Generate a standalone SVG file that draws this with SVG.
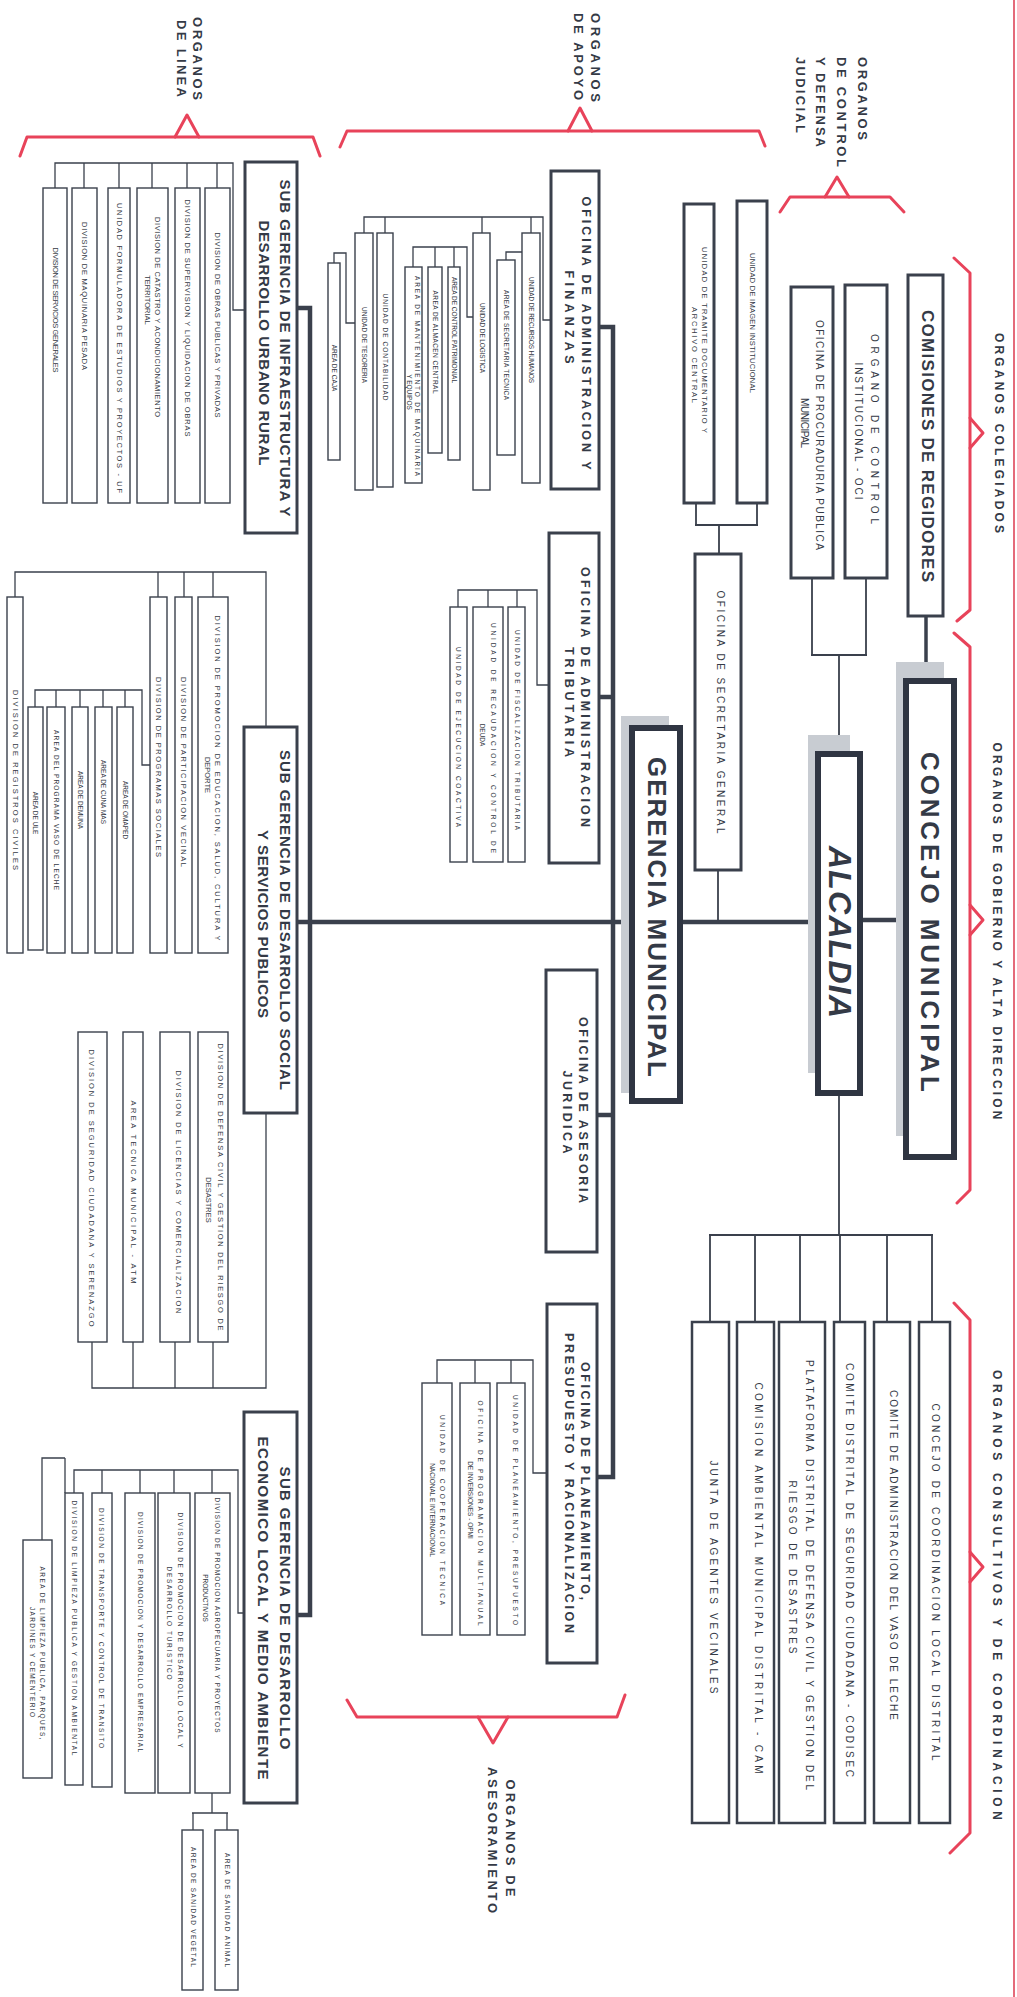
<svg xmlns="http://www.w3.org/2000/svg" width="1017" height="1997" viewBox="0 0 1017 1997">
<style>
text { font-family: "Liberation Sans", Arial, sans-serif; fill: #343a46; text-anchor: middle; dominant-baseline: central; }
.s { font-size: 6.5px; }
.m { font-size: 7.5px; }
.c { font-size: 10px; }
.sec { font-size: 10px; }
.o { font-size: 12.5px; font-weight: bold; }
.g { font-size: 15px; font-weight: bold; }
.h { font-size: 12px; font-weight: bold; }
.L { font-size: 13px; font-weight: bold; }
.cr { font-size: 17px; font-weight: bold; }
.big { font-size: 26px; font-weight: bold; }
.alc { font-size: 32px; font-weight: bold; font-style: italic; }
.st { text-anchor: start; }
.bx { fill: #fff; stroke: #3a404c; stroke-width: 1.4; }
.bc { fill: #fff; stroke: #3a404c; stroke-width: 2.5; }
.bm { fill: #fff; stroke: #3a404c; stroke-width: 3; }
.bt { fill: #fff; stroke: #2f3542; stroke-width: 6; }
.sh { fill: #c8ccd2; }
.ln { fill: none; stroke: #3a404c; stroke-width: 1.3; }
.lm { fill: none; stroke: #3a404c; stroke-width: 1.8; }
.lk { fill: none; stroke: #3a404c; stroke-width: 4.5; }
.red { fill: none; stroke: #e8435a; stroke-width: 3; stroke-linejoin: round; stroke-linecap: round; }
</style>

<!-- red frame edge -->
<path d="M1014,0 V1997" fill="none" stroke="#e46a7a" stroke-width="2"/>

<!-- brackets -->
<g id="brackets">
<path class="red" d="M20,156 L27,137 H313 L320,156"/>
<path class="red" d="M175,137 L187,115 L199,137"/>
<path class="red" d="M340,147 L347,131 H759 L765,146"/>
<path class="red" d="M568,131 L580,108 L592,131"/>
<path class="red" d="M780,212 L790,197 H890 L904,212"/>
<path class="red" d="M825,197 L837,177 L849,197"/>
<path class="red" d="M954,258 L970,273 V610 L957,621"/>
<path class="red" d="M970,418 L983,433 L970,448"/>
<path class="red" d="M954,633 L970,647 V1190 L957,1203"/>
<path class="red" d="M970,905 L983,920 L970,935"/>
<path class="red" d="M954,1303 L970,1320 V1833 L950,1853"/>
<path class="red" d="M970,1552 L983,1567 L970,1582"/>
<path class="red" d="M347,1700 L357,1717 H617 L625,1695"/>
<path class="red" d="M478,1717 L493,1743 L508,1717"/>
</g>

<g id="labels">
<text class="h" transform="translate(999 433) rotate(90)" textLength="200" lengthAdjust="spacing">ORGANOS COLEGIADOS</text>
<text class="h" transform="translate(997 931) rotate(90)" textLength="377" lengthAdjust="spacing">ORGANOS DE GOBIERNO Y ALTA DIRECCION</text>
<text class="h" transform="translate(997 1595) rotate(90)" textLength="450" lengthAdjust="spacing">ORGANOS CONSULTIVOS Y DE COORDINACION</text>
<text class="L st" transform="translate(197 17) rotate(90)" textLength="83" lengthAdjust="spacing">ORGANOS</text>
<text class="L st" transform="translate(181 20) rotate(90)" textLength="77" lengthAdjust="spacing">DE LINEA</text>
<text class="L st" transform="translate(595 13) rotate(90)" textLength="89" lengthAdjust="spacing">ORGANOS</text>
<text class="L st" transform="translate(578 13) rotate(90)" textLength="87" lengthAdjust="spacing">DE APOYO</text>
<text class="L st" transform="translate(862 57) rotate(90)" textLength="83" lengthAdjust="spacing">ORGANOS</text>
<text class="L st" transform="translate(841 57) rotate(90)" textLength="110" lengthAdjust="spacing">DE CONTROL</text>
<text class="L st" transform="translate(820 57) rotate(90)" textLength="90" lengthAdjust="spacing">Y DEFENSA</text>
<text class="L st" transform="translate(800 57) rotate(90)" textLength="76" lengthAdjust="spacing">JUDICIAL</text>
<text class="L" transform="translate(510 1838) rotate(90)" textLength="117" lengthAdjust="spacing">ORGANOS DE</text>
<text class="L" transform="translate(492 1840) rotate(90)" textLength="146" lengthAdjust="spacing">ASESORAMIENTO</text>
</g>

<!-- connectors -->
<g id="connectors">
<path class="lk" d="M297,308 H310 V1615 H297"/>
<path class="lk" d="M297,922 H632"/>
<path class="lk" d="M680,922 H818"/>
<path class="lk" d="M860,920 H906"/>
<path class="lk" d="M599,327 H613 V1477 H597"/>
<path class="lk" d="M599,697 H613"/>
<path class="lk" d="M597,1115 H613"/>
<path class="lk" d="M926,616 V681" style="stroke-width:3.5"/>
<path class="lm" d="M866,578 V655 M812,578 V655 M811,655 H867 M839,655 V754"/>
<path class="lm" d="M757,503 V525 M696,503 V525 M695,525 H758 M719,525 V554"/>
<path class="lm" d="M718,870 V920"/>
<path class="lm" d="M839,1093 V1235 M709,1235 H933 M710,1235 V1322 M755,1235 V1322 M800,1235 V1322 M840,1235 V1322 M887,1235 V1322 M932,1235 V1322"/>
<path class="ln" d="M245,310 H233 V163 H55 V188 M84,163 V188 M119,163 V188 M152,163 V188 M187,163 V188 M217,163 V188"/>
<path class="ln" d="M551,320 H543 V217 H364 V233 M385,217 V233 M482,217 V233 M531,217 V233"/>
<path class="ln" d="M522,252 H506 V260"/>
<path class="ln" d="M473,317 H467 V247 H413 V267 M435,247 V267 M454,247 V267"/>
<path class="ln" d="M355,323 H346 V253 H334 V263"/>
<path class="ln" d="M549,685 H537 V590 H458 V607 M488,590 V607 M517,590 V607"/>
<path class="ln" d="M547,1473 H533 V1360 H437 V1383 M475,1360 V1383 M511,1360 V1383"/>
<path class="ln" d="M266,727 V572 H15 V597 M158,572 V597 M184,572 V597 M213,572 V597"/>
<path class="ln" d="M150,765 H142 V690 H35 V707 M56,690 V707 M80,690 V707 M103,690 V707 M125,690 V707"/>
<path class="ln" d="M266,1113 V1388 H92 V1342 M133,1388 V1342 M175,1388 V1342 M213,1388 V1342"/>
<path class="ln" d="M244,1613 H238 V1470 H74 V1493 M102,1470 V1493 M140,1470 V1493 M174,1470 V1493 M212,1470 V1493"/>
<path class="ln" d="M65,1458 H42 V1540 M65,1458 V1493"/>
<path class="ln" d="M212,1793 V1813 M192,1813 H228 M193,1813 V1830 M227,1813 V1830"/>
</g>

<!-- top tier -->
<g id="concejo">
<rect class="sh" x="896" y="662" width="48" height="474"/>
<rect class="bt" x="906" y="681" width="48" height="476"/>
<text class="big" transform="translate(930 922) rotate(90)" textLength="340" lengthAdjust="spacing">CONCEJO MUNICIPAL</text>
</g>
<g id="alcaldia">
<rect class="sh" x="808" y="735" width="42" height="338"/>
<rect class="bt" x="818" y="754" width="42" height="339"/>
<text class="alc" transform="translate(840 932) rotate(90)" textLength="172" lengthAdjust="spacing">ALCALDIA</text>
</g>
<g id="gerencia">
<rect class="sh" x="621" y="716" width="48" height="377"/>
<rect class="bt" x="632" y="728" width="48" height="373"/>
<text class="big" transform="translate(657 917) rotate(90)" textLength="320" lengthAdjust="spacing">GERENCIA MUNICIPAL</text>
</g>
<g id="comisiones">
<rect class="bm" x="908" y="275" width="35" height="341"/>
<text class="cr" transform="translate(927 446) rotate(90)" textLength="272" lengthAdjust="spacing">COMISIONES DE REGIDORES</text>
</g>
<g id="oci">
<rect class="bm" x="845" y="285" width="42" height="293"/>
<text class="c" transform="translate(874 429) rotate(90)" textLength="190" lengthAdjust="spacing">ORGANO DE CONTROL</text>
<text class="c" transform="translate(858 431) rotate(90)" textLength="137" lengthAdjust="spacing">INSTITUCIONAL - OCI</text>
</g>
<g id="procuraduria">
<rect class="bm" x="791" y="287" width="42" height="291"/>
<text class="c" transform="translate(819 435) rotate(90)" textLength="230" lengthAdjust="spacing">OFICINA DE PROCURADURIA PUBLICA</text>
<text class="c" transform="translate(804 423) rotate(90)" textLength="50" lengthAdjust="spacing">MUNICIPAL</text>
</g>
<g id="imagen">
<rect class="bm" x="737" y="201" width="30" height="302"/>
<text class="m" transform="translate(752 323) rotate(90)" textLength="140" lengthAdjust="spacing">UNIDAD DE IMAGEN INSTITUCIONAL</text>
</g>
<g id="tramite">
<rect class="bm" x="684" y="204" width="30" height="299"/>
<text class="m" transform="translate(704 340) rotate(90)" textLength="186" lengthAdjust="spacing">UNIDAD DE TRAMITE DOCUMENTARIO Y</text>
<text class="m" transform="translate(694 355) rotate(90)" textLength="96" lengthAdjust="spacing">ARCHIVO CENTRAL</text>
</g>
<g id="secretaria">
<rect class="bm" x="695" y="554" width="46" height="316"/>
<text class="sec" transform="translate(720 712) rotate(90)" textLength="243" lengthAdjust="spacing">OFICINA DE SECRETARIA GENERAL</text>
</g>

<!-- apoyo / asesoramiento -->
<g id="adm-finanzas">
<rect class="bm" x="551" y="171" width="48" height="318"/>
<text class="o" transform="translate(586 333) rotate(90)" textLength="273" lengthAdjust="spacing">OFICINA DE ADMINISTRACION Y</text>
<text class="o" transform="translate(569 317) rotate(90)" textLength="93" lengthAdjust="spacing">FINANZAS</text>
</g>
<g id="adm-tributaria">
<rect class="bm" x="549" y="533" width="50" height="330"/>
<text class="o" transform="translate(585 697) rotate(90)" textLength="260" lengthAdjust="spacing">OFICINA DE ADMINISTRACION</text>
<text class="o" transform="translate(569 702) rotate(90)" textLength="110" lengthAdjust="spacing">TRIBUTARIA</text>
</g>
<g id="asesoria">
<rect class="bm" x="546" y="970" width="51" height="282"/>
<text class="o" transform="translate(583 1110) rotate(90)" textLength="186" lengthAdjust="spacing">OFICINA DE ASESORIA</text>
<text class="o" transform="translate(567 1112) rotate(90)" textLength="83" lengthAdjust="spacing">JURIDICA</text>
</g>
<g id="planeamiento">
<rect class="bm" x="547" y="1304" width="50" height="359"/>
<text class="o" transform="translate(585 1481) rotate(90)" textLength="238" lengthAdjust="spacing">OFICINA DE PLANEAMIENTO,</text>
<text class="o" transform="translate(569 1483) rotate(90)" textLength="300" lengthAdjust="spacing">PRESUPUESTO Y RACIONALIZACION</text>
</g>

<!-- admin finanzas children -->
<g id="rrhh"><rect class="bx" x="522" y="233" width="18" height="250"/><text class="s" transform="translate(531 330) rotate(90)" textLength="106" lengthAdjust="spacing">UNIDAD DE RECURSOS HUMANOS</text></g>
<g id="sectec"><rect class="bx" x="497" y="260" width="18" height="195"/><text class="s" transform="translate(506 345) rotate(90)" textLength="110" lengthAdjust="spacing">AREA DE SECRETARIA TECNICA</text></g>
<g id="logistica"><rect class="bx" x="473" y="233" width="17" height="257"/><text class="s" transform="translate(482 338) rotate(90)" textLength="70" lengthAdjust="spacing">UNIDAD DE LOGISTICA</text></g>
<g id="patrimonial"><rect class="bx" x="448" y="267" width="12" height="193"/><text class="s" transform="translate(454 330) rotate(90)" textLength="106" lengthAdjust="spacing">AREA DE CONTROL PATRIMONIAL</text></g>
<g id="almacen"><rect class="bx" x="428" y="267" width="14" height="186"/><text class="s" transform="translate(435 342) rotate(90)" textLength="103" lengthAdjust="spacing">AREA DE ALMACEN CENTRAL</text></g>
<g id="mantenimiento"><rect class="bx" x="405" y="267" width="17" height="216"/><text class="s" transform="translate(417 376) rotate(90)" textLength="200" lengthAdjust="spacing">AREA DE MANTENIMIENTO DE MAQUINARIA</text><text class="s" transform="translate(409 392) rotate(90)">Y EQUIPOS</text></g>
<g id="contabilidad"><rect class="bx" x="377" y="233" width="16" height="254"/><text class="s" transform="translate(385 347) rotate(90)" textLength="107" lengthAdjust="spacing">UNIDAD DE CONTABILIDAD</text></g>
<g id="tesoreria"><rect class="bx" x="355" y="233" width="18" height="257"/><text class="s" transform="translate(364 345) rotate(90)" textLength="76" lengthAdjust="spacing">UNIDAD DE TESORERIA</text></g>
<g id="caja"><rect class="bx" x="328" y="263" width="12" height="197"/><text class="s" transform="translate(334 368) rotate(90)">AREA DE CAJA</text></g>

<!-- tributaria children -->
<g id="fiscalizacion"><rect class="bx" x="508" y="607" width="17" height="255"/><text class="s" transform="translate(517 730) rotate(90)" textLength="200" lengthAdjust="spacing">UNIDAD DE FISCALIZACION TRIBUTARIA</text></g>
<g id="recaudacion"><rect class="bx" x="473" y="607" width="30" height="255"/><text class="s" transform="translate(493 738) rotate(90)" textLength="230" lengthAdjust="spacing">UNIDAD DE RECAUDACION Y CONTROL DE</text><text class="s" transform="translate(482 735) rotate(90)">DEUDA</text></g>
<g id="coactiva"><rect class="bx" x="450" y="607" width="17" height="255"/><text class="s" transform="translate(458 737) rotate(90)" textLength="180" lengthAdjust="spacing">UNIDAD DE EJECUCION COACTIVA</text></g>

<!-- planeamiento children -->
<g id="upp"><rect class="bx" x="497" y="1383" width="28" height="252"/><text class="s" transform="translate(515 1510) rotate(90)" textLength="230" lengthAdjust="spacing">UNIDAD DE PLANEAMIENTO, PRESUPUESTO</text></g>
<g id="opmi"><rect class="bx" x="460" y="1383" width="30" height="252"/><text class="s" transform="translate(480 1513) rotate(90)" textLength="225" lengthAdjust="spacing">OFICINA DE PROGRAMACION MULTIANUAL</text><text class="s" transform="translate(470 1500) rotate(90)">DE INVERSIONES - OPMI</text></g>
<g id="cooperacion"><rect class="bx" x="422" y="1383" width="30" height="252"/><text class="s" transform="translate(442 1510) rotate(90)" textLength="190" lengthAdjust="spacing">UNIDAD DE COOPERACION TECNICA</text><text class="s" transform="translate(432 1510) rotate(90)">NACIONAL E INTERNACIONAL</text></g>

<!-- sub gerencias -->
<g id="sg-infraestructura">
<rect class="bm" x="245" y="162" width="52" height="371"/>
<text class="g" transform="translate(285 348) rotate(90)" textLength="337" lengthAdjust="spacing">SUB GERENCIA DE INFRAESTRUCTURA Y</text>
<text class="g" transform="translate(264 343) rotate(90)" textLength="245" lengthAdjust="spacing">DESARROLLO URBANO RURAL</text>
</g>
<g id="sg-social">
<rect class="bm" x="244" y="727" width="53" height="386"/>
<text class="g" transform="translate(285 920) rotate(90)" textLength="340" lengthAdjust="spacing">SUB GERENCIA DE DESARROLLO SOCIAL</text>
<text class="g" transform="translate(263 924) rotate(90)" textLength="188" lengthAdjust="spacing">Y SERVICIOS PUBLICOS</text>
</g>
<g id="sg-economico">
<rect class="bm" x="244" y="1412" width="53" height="391"/>
<text class="g" transform="translate(285 1608) rotate(90)" textLength="283" lengthAdjust="spacing">SUB GERENCIA DE DESARROLLO</text>
<text class="g" transform="translate(263 1608) rotate(90)" textLength="343" lengthAdjust="spacing">ECONOMICO LOCAL Y MEDIO AMBIENTE</text>
</g>

<!-- infraestructura children -->
<g id="obras"><rect class="bx" x="205" y="188" width="25" height="315"/><text class="m" transform="translate(217 325) rotate(90)" textLength="185" lengthAdjust="spacing">DIVISION DE OBRAS PUBLICAS Y PRIVADAS</text></g>
<g id="supervision"><rect class="bx" x="175" y="188" width="25" height="315"/><text class="m" transform="translate(187 318) rotate(90)" textLength="237" lengthAdjust="spacing">DIVISION DE SUPERVISION Y LIQUIDACION DE OBRAS</text></g>
<g id="catastro"><rect class="bx" x="137" y="188" width="31" height="315"/><text class="m" transform="translate(157 317) rotate(90)" textLength="200" lengthAdjust="spacing">DIVISION DE CATASTRO Y ACONDICIONAMIENTO</text><text class="m" transform="translate(147 300) rotate(90)">TERRITORIAL</text></g>
<g id="formuladora"><rect class="bx" x="108" y="188" width="22" height="315"/><text class="m" transform="translate(119 348) rotate(90)" textLength="290" lengthAdjust="spacing">UNIDAD FORMULADORA DE ESTUDIOS Y PROYECTOS - UF</text></g>
<g id="maquinaria"><rect class="bx" x="72" y="188" width="25" height="315"/><text class="m" transform="translate(84 296) rotate(90)" textLength="148" lengthAdjust="spacing">DIVISION DE MAQUINARIA PESADA</text></g>
<g id="servicios"><rect class="bx" x="43" y="188" width="24" height="315"/><text class="m" transform="translate(55 310) rotate(90)" textLength="125" lengthAdjust="spacing">DIVISION DE SERVICIOS GENERALES</text></g>

<!-- social children group 1 -->
<g id="educacion"><rect class="bx" x="198" y="597" width="30" height="356"/><text class="m" transform="translate(217 778) rotate(90)" textLength="325" lengthAdjust="spacing">DIVISION DE PROMOCION DE EDUCACION, SALUD, CULTURA Y</text><text class="m" transform="translate(207 775) rotate(90)">DEPORTE</text></g>
<g id="participacion"><rect class="bx" x="175" y="597" width="17" height="356"/><text class="m" transform="translate(183 772) rotate(90)" textLength="190" lengthAdjust="spacing">DIVISION DE PARTICIPACION VECINAL</text></g>
<g id="programas"><rect class="bx" x="150" y="597" width="17" height="356"/><text class="m" transform="translate(158 767) rotate(90)" textLength="180" lengthAdjust="spacing">DIVISION DE PROGRAMAS SOCIALES</text></g>
<g id="omaped"><rect class="bx" x="117" y="707" width="16" height="246"/><text class="s" transform="translate(125 810) rotate(90)">AREA DE OMAPED</text></g>
<g id="cuna"><rect class="bx" x="95" y="707" width="17" height="246"/><text class="s" transform="translate(103 792) rotate(90)">AREA DE CUNA MAS</text></g>
<g id="demuna"><rect class="bx" x="72" y="707" width="16" height="246"/><text class="s" transform="translate(80 800) rotate(90)">AREA DE DEMUNA</text></g>
<g id="vaso"><rect class="bx" x="47" y="707" width="18" height="246"/><text class="s" transform="translate(56 810) rotate(90)" textLength="160" lengthAdjust="spacing">AREA DEL PROGRAMA VASO DE LECHE</text></g>
<g id="ule"><rect class="bx" x="28" y="707" width="15" height="243"/><text class="s" transform="translate(35 813) rotate(90)">AREA DE ULE</text></g>
<g id="registros"><rect class="bx" x="7" y="597" width="16" height="356"/><text class="m" transform="translate(15 780) rotate(90)" textLength="180" lengthAdjust="spacing">DIVISION DE REGISTROS CIVILES</text></g>

<!-- social children group 2 -->
<g id="defensa"><rect class="bx" x="198" y="1032" width="30" height="310"/><text class="m" transform="translate(220 1187) rotate(90)" textLength="287" lengthAdjust="spacing">DIVISION DE DEFENSA CIVIL Y GESTION DEL RIESGO DE</text><text class="m" transform="translate(208 1200) rotate(90)">DESASTRES</text></g>
<g id="licencias"><rect class="bx" x="160" y="1032" width="30" height="310"/><text class="m" transform="translate(178 1192) rotate(90)" textLength="243" lengthAdjust="spacing">DIVISION DE LICENCIAS Y COMERCIALIZACION</text></g>
<g id="atm"><rect class="bx" x="123" y="1032" width="20" height="310"/><text class="m" transform="translate(133 1192) rotate(90)" textLength="183" lengthAdjust="spacing">AREA TECNICA MUNICIPAL - ATM</text></g>
<g id="seguridad"><rect class="bx" x="78" y="1032" width="29" height="310"/><text class="m" transform="translate(91 1188) rotate(90)" textLength="277" lengthAdjust="spacing">DIVISION DE SEGURIDAD CIUDADANA Y SERENAZGO</text></g>

<!-- economico children -->
<g id="agropecuaria"><rect class="bx" x="195" y="1493" width="35" height="300"/><text class="s" transform="translate(217 1615) rotate(90)" textLength="235" lengthAdjust="spacing">DIVISION DE PROMOCION AGROPECUARIA Y PROYECTOS</text><text class="s" transform="translate(205 1598) rotate(90)">PRODUCTIVOS</text></g>
<g id="turistico"><rect class="bx" x="158" y="1493" width="32" height="300"/><text class="s" transform="translate(180 1630) rotate(90)" textLength="235" lengthAdjust="spacing">DIVISION DE PROMOCION DE DESARROLLO LOCAL Y</text><text class="s" transform="translate(169 1623) rotate(90)" textLength="113" lengthAdjust="spacing">DESARROLLO TURISTICO</text></g>
<g id="empresarial"><rect class="bx" x="125" y="1493" width="30" height="300"/><text class="s" transform="translate(140 1632) rotate(90)" textLength="240" lengthAdjust="spacing">DIVISION DE PROMOCION Y DESARROLLO EMPRESARIAL</text></g>
<g id="transporte"><rect class="bx" x="92" y="1493" width="20" height="294"/><text class="s" transform="translate(101 1628) rotate(90)" textLength="240" lengthAdjust="spacing">DIVISION DE TRANSPORTE Y CONTROL DE TRANSITO</text></g>
<g id="limpieza"><rect class="bx" x="65" y="1493" width="18" height="292"/><text class="s" transform="translate(74 1628) rotate(90)" textLength="255" lengthAdjust="spacing">DIVISION DE LIMPIEZA PUBLICA Y GESTION AMBIENTAL</text></g>
<g id="parques"><rect class="bx" x="23" y="1540" width="29" height="238"/><text class="s" transform="translate(42 1653) rotate(90)" textLength="173" lengthAdjust="spacing">AREA DE LIMPIEZA PUBLICA, PARQUES,</text><text class="s" transform="translate(32 1662) rotate(90)" textLength="110" lengthAdjust="spacing">JARDINES Y CEMENTERIO</text></g>
<g id="sanidad-animal"><rect class="bx" x="215" y="1830" width="23" height="160"/><text class="s" transform="translate(227 1910) rotate(90)" textLength="114" lengthAdjust="spacing">AREA DE SANIDAD ANIMAL</text></g>
<g id="sanidad-vegetal"><rect class="bx" x="182" y="1830" width="21" height="160"/><text class="s" transform="translate(193 1907) rotate(90)" textLength="120" lengthAdjust="spacing">AREA DE SANIDAD VEGETAL</text></g>

<!-- consultivos -->
<g id="ccl"><rect class="bc" x="919" y="1322" width="31" height="501"/><text class="c" transform="translate(935 1582) rotate(90)" textLength="357" lengthAdjust="spacing">CONCEJO DE COORDINACION LOCAL DISTRITAL</text></g>
<g id="vaso-leche"><rect class="bc" x="874" y="1322" width="36" height="501"/><text class="c" transform="translate(893 1555) rotate(90)" textLength="330" lengthAdjust="spacing">COMITE DE ADMINISTRACION DEL VASO DE LECHE</text></g>
<g id="codisec"><rect class="bc" x="834" y="1322" width="31" height="501"/><text class="c" transform="translate(849 1570) rotate(90)" textLength="414" lengthAdjust="spacing">COMITE DISTRITAL DE SEGURIDAD CIUDADANA - CODISEC</text></g>
<g id="plataforma"><rect class="bc" x="779" y="1322" width="46" height="501"/><text class="c" transform="translate(809 1575) rotate(90)" textLength="430" lengthAdjust="spacing">PLATAFORMA DISTRITAL DE DEFENSA CIVIL Y GESTION DEL</text><text class="c" transform="translate(792 1567) rotate(90)" textLength="173" lengthAdjust="spacing">RIESGO DE DESASTRES</text></g>
<g id="cam"><rect class="bc" x="737" y="1322" width="37" height="501"/><text class="c" transform="translate(758 1578) rotate(90)" textLength="391" lengthAdjust="spacing">COMISION AMBIENTAL MUNICIPAL DISTRITAL - CAM</text></g>
<g id="junta"><rect class="bc" x="692" y="1322" width="37" height="501"/><text class="c" transform="translate(713 1577) rotate(90)" textLength="233" lengthAdjust="spacing">JUNTA DE AGENTES VECINALES</text></g>
</svg>
